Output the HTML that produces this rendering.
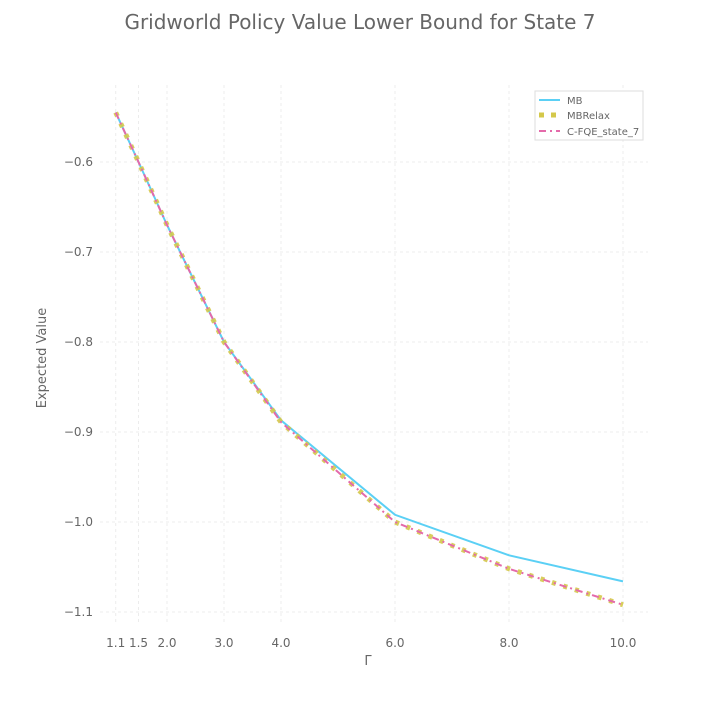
<!DOCTYPE html>
<html><head><meta charset="utf-8"><style>
body{margin:0;background:#fff;font-family:"DejaVu Sans","Liberation Sans",sans-serif}
svg text{font-family:"DejaVu Sans","Liberation Sans",sans-serif}
</style></head><body>
<svg id="chart" width="720" height="720" xmlns="http://www.w3.org/2000/svg">
<text x="360" y="29" text-anchor="middle" font-size="20" fill="#666">Gridworld Policy Value Lower Bound for State 7</text>
<g id="grid"></g><g id="series"></g><g id="ticks"></g>
<text x="368" y="665" text-anchor="middle" font-size="13" fill="#666">Γ</text>
<text transform="translate(46,358) rotate(-90)" text-anchor="middle" font-size="13" fill="#666">Expected Value</text>
<g>
<rect x="535" y="91" width="108" height="49" fill="#fff" stroke="#ddd"/>
<line x1="539" y1="100" x2="560" y2="100" stroke="#5bd0f5" stroke-width="2"/>
<text x="567" y="104" font-size="10" fill="#666">MB</text>
<line x1="539" y1="115" x2="560" y2="115" stroke="#d4c84a" stroke-width="5" stroke-dasharray="5,7"/>
<text x="567" y="119" font-size="10" fill="#666">MBRelax</text>
<line x1="539" y1="131" x2="560" y2="131" stroke="#e46aaa" stroke-width="2" stroke-dasharray="7,4,2,4"/>
<text x="567" y="135" font-size="10" fill="#666">C-FQE_state_7</text>
</g>
</svg>
<script>
const gammas=[1.1,1.5,2.0,3.0,4.0,6.0,8.0,10.0];
const mbValues=[-0.545,-0.600,-0.670,-0.800,-0.887,-0.992,-1.037,-1.066];
const mbRelaxValues=[-0.545,-0.600,-0.670,-0.800,-0.889,-1.000,-1.052,-1.092];
const cfqeValues=[-0.545,-0.600,-0.670,-0.800,-0.889,-1.000,-1.052,-1.092];
const xTicks=[1.1,1.5,2.0,3.0,4.0,6.0,8.0,10.0];
const xTickLabels=["1.1","1.5","2.0","3.0","4.0","6.0","8.0","10.0"];
const yTicks=[-0.6,-0.7,-0.8,-0.9,-1.0,-1.1];
const yTickLabels=["−0.6","−0.7","−0.8","−0.9","−1.0","−1.1"];
const NS="http://www.w3.org/2000/svg";
const X=v=>110+(v-1)*57;
const Y=v=>162+(-0.6-v)*900;
function mk(t,a,p){const e=document.createElementNS(NS,t);for(const k in a)e.setAttribute(k,a[k]);p.appendChild(e);return e;}
const grid=document.getElementById('grid'),ticks=document.getElementById('ticks'),ser=document.getElementById('series');
xTicks.forEach((v,i)=>{
 const l=mk('line',{x1:X(v),x2:X(v),y1:85,y2:625,stroke:'#ececec','stroke-dasharray':'3,3'},grid);
 
 
 const t=mk('text',{x:X(v),y:647,'text-anchor':'middle','font-size':12,fill:'#666'},ticks);t.textContent=xTickLabels[i];
 
 
});
yTicks.forEach((v,i)=>{
 const l=mk('line',{x1:100,x2:648,y1:Y(v),y2:Y(v),stroke:'#ececec','stroke-dasharray':'3,3'},grid);
 
 
 const t=mk('text',{x:93,y:Y(v)+4,'text-anchor':'end','font-size':12,fill:'#666'},ticks);t.textContent=yTickLabels[i];
 
 
});
function pts(vals){return gammas.map((g,i)=>X(g)+','+Y(vals[i])).join(' ');}
const p1=mk('polyline',{points:pts(mbValues),fill:'none',stroke:'#5bd0f5','stroke-width':2},ser);


const p2=mk('polyline',{points:pts(mbRelaxValues),fill:'none',stroke:'#d4c84a','stroke-width':5,'stroke-dasharray':'4,8','opacity':0.9},ser);


const p3=mk('polyline',{points:pts(cfqeValues),fill:'none',stroke:'#e46aaa','stroke-width':2,'stroke-dasharray':'7,4,2,4'},ser);


</script>
</body></html>
